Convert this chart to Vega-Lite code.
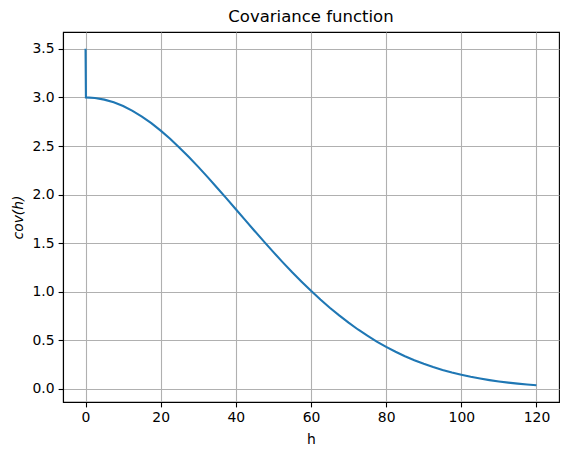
{
  "$schema": "https://vega.github.io/schema/vega-lite/v6.json",
  "width": 496,
  "height": 370,
  "autosize": {"type": "none"},
  "padding": {"left": 63, "top": 32, "right": 10, "bottom": 53},
  "background": "white",
  "title": {
    "text": "Covariance function",
    "font": "DejaVu Sans",
    "fontSize": 16.5,
    "fontWeight": "normal",
    "color": "black",
    "anchor": "middle",
    "offset": 7
  },
  "config": {
    "view": {"stroke": "black", "strokeWidth": 1.1},
    "axis": {
      "labelFont": "DejaVu Sans",
      "labelFontSize": 13.9,
      "labelColor": "black",
      "titleFont": "DejaVu Sans",
      "titleFontSize": 13.9,
      "titleFontWeight": "normal",
      "titleColor": "black",
      "domainColor": "black",
      "domainWidth": 1.1,
      "tickColor": "black",
      "tickWidth": 1.1,
      "tickSize": 4.9,
      "labelPadding": 4,
      "gridColor": "#b0b0b0",
      "gridWidth": 1.1,
      "gridOpacity": 1
    }
  },
  "data": {
    "values": [
      {"h": 0, "cov": 3.5},
      {"h": 0.1, "cov": 3.0},
      {"h": 2.5, "cov": 2.994},
      {"h": 5, "cov": 2.977},
      {"h": 7.5, "cov": 2.949},
      {"h": 10, "cov": 2.911},
      {"h": 12.5, "cov": 2.862},
      {"h": 15, "cov": 2.803},
      {"h": 17.5, "cov": 2.735},
      {"h": 20, "cov": 2.658},
      {"h": 22.5, "cov": 2.575},
      {"h": 25, "cov": 2.483},
      {"h": 27.5, "cov": 2.387},
      {"h": 30, "cov": 2.285},
      {"h": 32.5, "cov": 2.180},
      {"h": 35, "cov": 2.071},
      {"h": 37.5, "cov": 1.961},
      {"h": 40, "cov": 1.849},
      {"h": 42.5, "cov": 1.737},
      {"h": 45, "cov": 1.626},
      {"h": 47.5, "cov": 1.516},
      {"h": 50, "cov": 1.408},
      {"h": 52.5, "cov": 1.303},
      {"h": 55, "cov": 1.201},
      {"h": 57.5, "cov": 1.104},
      {"h": 60, "cov": 1.010},
      {"h": 62.5, "cov": 0.921},
      {"h": 65, "cov": 0.836},
      {"h": 67.5, "cov": 0.757},
      {"h": 70, "cov": 0.682},
      {"h": 72.5, "cov": 0.612},
      {"h": 75, "cov": 0.548},
      {"h": 77.5, "cov": 0.488},
      {"h": 80, "cov": 0.433},
      {"h": 82.5, "cov": 0.383},
      {"h": 85, "cov": 0.337},
      {"h": 87.5, "cov": 0.296},
      {"h": 90, "cov": 0.259},
      {"h": 92.5, "cov": 0.226},
      {"h": 95, "cov": 0.196},
      {"h": 97.5, "cov": 0.169},
      {"h": 100, "cov": 0.146},
      {"h": 102.5, "cov": 0.125},
      {"h": 105, "cov": 0.107},
      {"h": 107.5, "cov": 0.091},
      {"h": 110, "cov": 0.077},
      {"h": 112.5, "cov": 0.065},
      {"h": 115, "cov": 0.055},
      {"h": 117.5, "cov": 0.046},
      {"h": 120, "cov": 0.0385}
    ]
  },
  "mark": {"type": "line", "color": "#1f77b4", "strokeWidth": 2.1, "interpolate": "linear"},
  "encoding": {
    "x": {
      "field": "h",
      "type": "quantitative",
      "scale": {"domain": [-6, 126], "nice": false, "zero": false},
      "axis": {
        "values": [0, 20, 40, 60, 80, 100, 120],
        "title": "h",
        "titleY": 41,
        "titleBaseline": "alphabetic"
      }
    },
    "y": {
      "field": "cov",
      "type": "quantitative",
      "scale": {"domain": [-0.134, 3.673], "nice": false, "zero": false},
      "axis": {
        "values": [0, 0.5, 1, 1.5, 2, 2.5, 3, 3.5],
        "format": ".1f",
        "title": "cov(h)",
        "titleFontStyle": "italic",
        "titleAngle": 270,
        "titleX": -45,
        "titleY": 185,
        "titleAlign": "center",
        "titleBaseline": "middle"
      }
    }
  }
}
